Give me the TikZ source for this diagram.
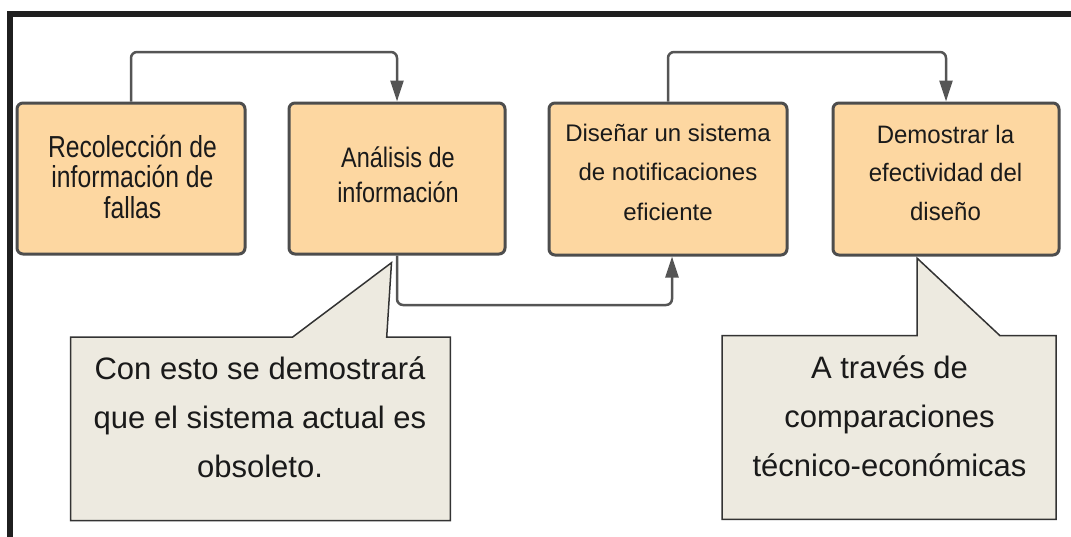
\documentclass[tikz,border=0pt]{standalone}
\usepackage{fontspec}
\setmainfont{Liberation Sans}
\usepackage{graphicx}
\usetikzlibrary{arrows.meta}
\definecolor{framec}{RGB}{31,31,31}
\definecolor{boxline}{RGB}{77,77,77}
\definecolor{boxfill}{RGB}{253,215,161}
\definecolor{connc}{RGB}{85,85,85}
\definecolor{callfill}{RGB}{237,234,224}
\definecolor{callline}{RGB}{51,51,51}
\definecolor{textc}{RGB}{26,26,26}
\newcommand{\firstl}{\rule{0pt}{40pt}}
\newcommand{\lastl}{\rule[-40pt]{0pt}{40pt}}
\newcommand{\stl}[2]{\scalebox{1}[#1]{#2}}
\tikzset{
  flowbox/.style={draw=boxline, fill=boxfill, line width=3pt, rounded corners=6pt, inner sep=0pt},
  txt/.style={text=textc, align=center, inner sep=0pt},
  conn/.style={draw=connc, line width=2.5pt, rounded corners=6pt, -{Triangle[length=21pt,width=13pt]}},
  callout/.style={draw=callline, fill=callfill, line width=1.5pt, line join=miter}
}
\begin{document}
\begin{tikzpicture}[x=1pt,y=-1pt]
\useasboundingbox (0,0) rectangle (1071,536);
% frame
\draw[line width=6pt, draw=framec] (10,545) -- (10,13.5) -- (1080,13.5);
% boxes
\node[flowbox, minimum width=228pt, minimum height=151pt] (b1) at (131,178.5) {};
\node[flowbox, minimum width=216pt, minimum height=151pt] (b2) at (397,178.5) {};
\node[flowbox, minimum width=238pt, minimum height=152pt] (b3) at (668,179) {};
\node[flowbox, minimum width=226pt, minimum height=152pt] (b4) at (946,179) {};
% box texts
\node[txt, font=\fontsize{24.7}{30.5}\selectfont] (t1) at (132.5,187.5)
  {\firstl\stl{1.23}{Recolección de}\\\stl{1.23}{información de}\\\lastl\stl{1.23}{fallas}};
\node[txt, font=\fontsize{23.5}{35}\selectfont] (t2) at (398,184.5)
  {\firstl\stl{1.2}{Análisis de}\\\lastl\stl{1.2}{información}};
\node[txt, font=\fontsize{24}{39.5}\selectfont] (t3) at (668,180.5)
  {\firstl Diseñar un sistema\\de notificaciones\\\lastl eficiente};
\node[txt, font=\fontsize{24}{38.5}\selectfont] (t4) at (945.5,181.5)
  {\firstl\stl{1.05}{Demostrar la}\\\stl{1.05}{efectividad del}\\\lastl\stl{1.05}{diseño}};
% connectors
\coordinate (topA) at (0,52);
\coordinate (midA) at (0,305);
\draw[conn] (b1.north) -- (b1.north |- topA) -| (b2.north);
\draw[conn] (b3.north) -- (b3.north |- topA) -| (b4.north);
\draw[conn] (b2.south) -- (b2.south |- midA) -| ([xshift=4pt]b3.south);
% callouts
\draw[callout] (70.6,337) -- (292.7,337) -- (391.5,262.7) -- (386.7,337) -- (450.4,337) -- (450.4,520.7) -- (70.6,520.7) -- cycle;
\draw[callout] (722.2,335.7) -- (917.2,335.7) -- (917.2,258.3) -- (1000,335.7) -- (1056.2,335.7) -- (1056.2,519.3) -- (722.2,519.3) -- cycle;
\node[txt, font=\fontsize{31}{49}\selectfont] (t5) at (260,428)
  {\firstl Con esto se demostrará\\que el sistema actual es\\\lastl obsoleto.};
\node[txt, font=\fontsize{31}{49}\selectfont] (t6) at (889.5,427)
  {\firstl A través de\\comparaciones\\\lastl técnico-económicas};
\end{tikzpicture}
\end{document}
